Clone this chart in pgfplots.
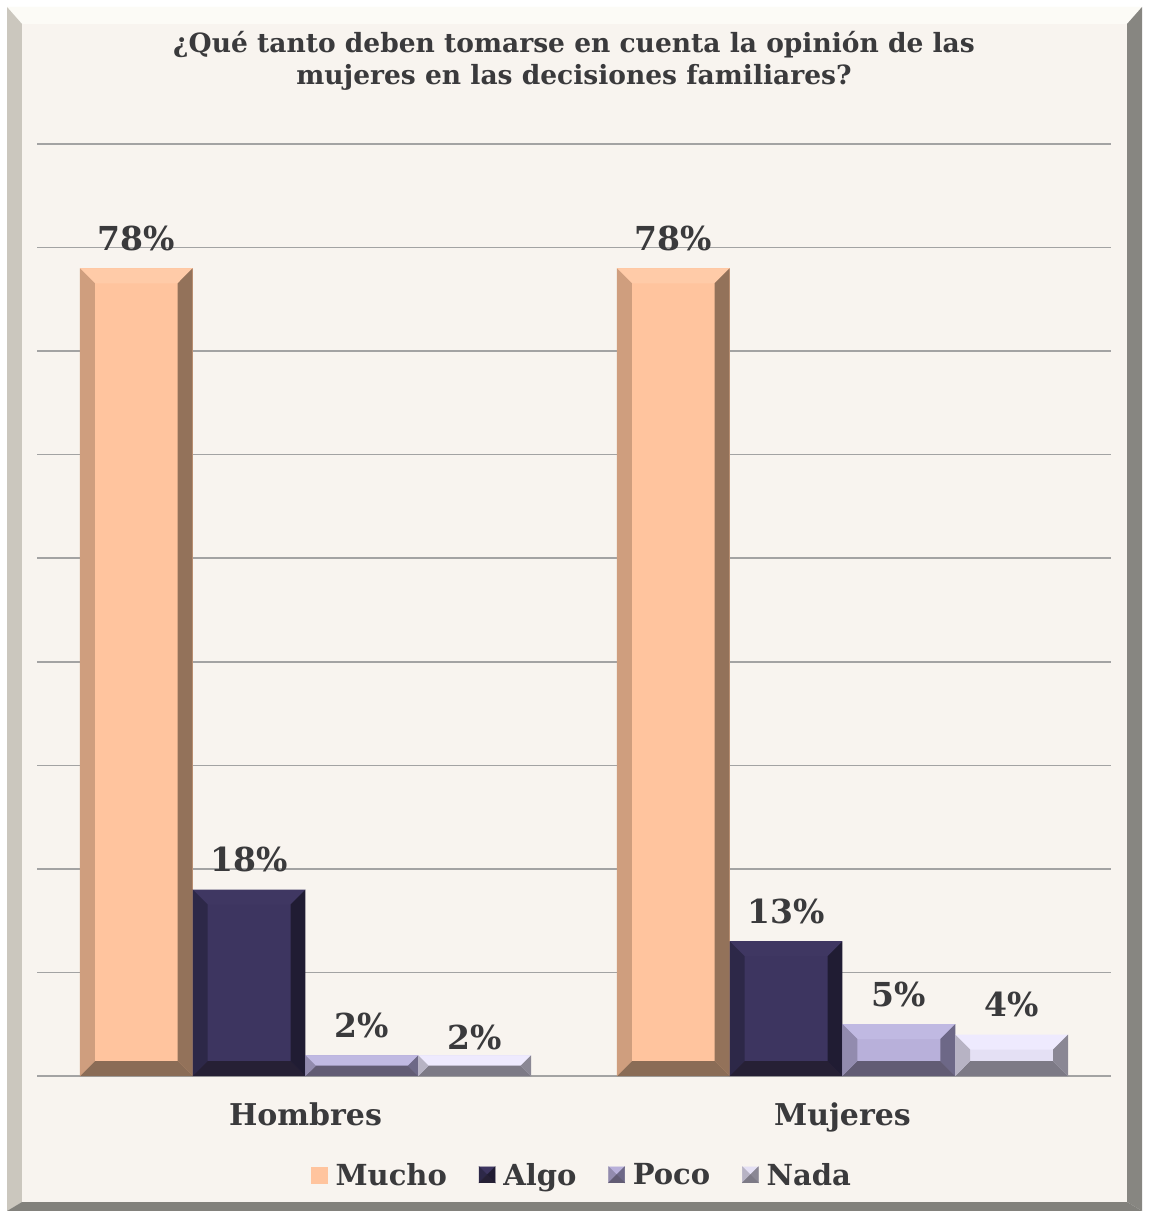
\documentclass[border=0pt]{standalone}
\usepackage{pgfplots}
\pgfplotsset{compat=1.18}
\usepackage{fontspec}
\setmainfont{DejaVu Serif}
\definecolor{txt}{HTML}{3A3A3C}
\definecolor{bg}{HTML}{F8F4EF}
\definecolor{gridc}{HTML}{A3A3A3}
\definecolor{frT}{HTML}{FCFBF6}
\definecolor{frL}{HTML}{CBC7BE}
\definecolor{frR}{HTML}{878681}
\definecolor{frB}{HTML}{82817C}
% Mucho
\definecolor{mF}{HTML}{FFC49E}\definecolor{mT}{HTML}{FFCBA8}\definecolor{mL}{HTML}{CF9E7E}\definecolor{mR}{HTML}{93725A}\definecolor{mB}{HTML}{8A6C56}
% Algo
\definecolor{aF}{HTML}{3D3560}\definecolor{aT}{HTML}{3F3762}\definecolor{aL}{HTML}{2D2848}\definecolor{aR}{HTML}{201C33}\definecolor{aB}{HTML}{262035}
% Poco
\definecolor{pF}{HTML}{B8B0DA}\definecolor{pT}{HTML}{C0B9E2}\definecolor{pL}{HTML}{928BAE}\definecolor{pR}{HTML}{6D6887}\definecolor{pB}{HTML}{625C74}
% Nada
\definecolor{nF}{HTML}{E4E0F4}\definecolor{nT}{HTML}{EEEAFE}\definecolor{nL}{HTML}{B7B3C4}\definecolor{nR}{HTML}{8A8794}\definecolor{nB}{HTML}{7D7A86}
\pgfplotsset{
  barp/.style={ybar, bar width=0.21, bar shift=0, fill=#1, draw=none, forget plot,
    nodes near coords={\pgfmathprintnumber[assume math mode=true]{\pgfplotspointmeta}\%},
    every node near coord/.append style={font=\bfseries\fontsize{33}{35}\selectfont, text=txt, yshift=14pt}},
  bev/.style={fill=#1, draw=none, forget plot},
}
\newcommand\legsq[4]{\fill[#1] (0pt,8pt)--(16pt,8pt)--(8pt,0pt)--cycle;
  \fill[#2] (0pt,-8pt)--(0pt,8pt)--(8pt,0pt)--cycle;
  \fill[#3] (16pt,-8pt)--(16pt,8pt)--(8pt,0pt)--cycle;
  \fill[#4] (0pt,-8pt)--(16pt,-8pt)--(8pt,0pt)--cycle;}
\begin{document}
\begin{tikzpicture}[x=1pt,y=1pt]
\path (0,0) rectangle (1149,1211);
\fill[white] (0,0) rectangle (1149,1211);
\fill[frT] (7,1204)--(1142,1204)--(1127,1187)--(22,1187)--cycle;
\fill[frL] (7,1204)--(22,1187)--(22,9)--(7,0)--cycle;
\fill[frR] (1142,1204)--(1142,0)--(1127,9)--(1127,1187)--cycle;
\fill[frB] (7,0)--(1142,0)--(1127,9)--(22,9)--cycle;
\fill[bg] (22,9) rectangle (1127,1187);
\node[font=\bfseries\fontsize{26.5}{32}\selectfont, text=txt, align=center] at (574,1150)
  {¿Qué tanto deben tomarse en cuenta la opinión de las\\mujeres en las decisiones familiares?};
\begin{axis}[at={(37pt,135pt)}, anchor=south west, scale only axis,
  width=1074pt, height=932pt, ymin=0, ymax=90, xmin=-0.5, xmax=1.5,
  axis line style={draw=none}, major tick length=0pt,
  ytick={0,10,...,90}, yticklabels={}, ymajorgrids,
  major grid style={color=gridc, line width=1.5pt},
  xtick={0,1}, xticklabels={Hombres,Mujeres},
  xticklabel style={font=\bfseries\fontsize{30}{32}\selectfont, text=txt, yshift=-23pt},
  legend columns=4,
  legend style={at={(0.5075,-0.106)}, anchor=center, draw=none, fill=none,
    font=\bfseries\fontsize{29}{32}\selectfont, text=txt,
    /tikz/every odd column/.append style={column sep=6pt},
    /tikz/every even column/.append style={column sep=30pt}},
  clip=false,
]
% faces
\addplot[barp=mF] coordinates {(-0.315,78)};
\addplot[barp=aF] coordinates {(-0.105,18)};
\addplot[barp=pF] coordinates {(0.105,2)};
\addplot[barp=nF, every node near coord/.append style={yshift=-12pt}] coordinates {(0.315,2)};
\addplot[barp=mF] coordinates {(0.685,78)};
\addplot[barp=aF] coordinates {(0.895,13)};
\addplot[barp=pF] coordinates {(1.105,5)};
\addplot[barp=nF] coordinates {(1.315,4)};
% bevels: Hombres Mucho [-0.42,-0.21] h=78
\addplot[bev=mT] coordinates {(-0.42,78)(-0.21,78)(-0.2379,76.552)(-0.3921,76.552)} --cycle;
\addplot[bev=mB] coordinates {(-0.42,0)(-0.21,0)(-0.2379,1.448)(-0.3921,1.448)} --cycle;
\addplot[bev=mL] coordinates {(-0.42,0)(-0.42,78)(-0.3921,76.552)(-0.3921,1.448)} --cycle;
\addplot[bev=mR] coordinates {(-0.21,0)(-0.21,78)(-0.2379,76.552)(-0.2379,1.448)} --cycle;
% Hombres Algo [-0.21,0] h=18
\addplot[bev=aT] coordinates {(-0.21,18)(0,18)(-0.0279,16.552)(-0.1821,16.552)} --cycle;
\addplot[bev=aB] coordinates {(-0.21,0)(0,0)(-0.0279,1.448)(-0.1821,1.448)} --cycle;
\addplot[bev=aL] coordinates {(-0.21,0)(-0.21,18)(-0.1821,16.552)(-0.1821,1.448)} --cycle;
\addplot[bev=aR] coordinates {(0,0)(0,18)(-0.0279,16.552)(-0.0279,1.448)} --cycle;
% Hombres Poco [0,0.21] h=2
\addplot[bev=pT] coordinates {(0,2)(0.21,2)(0.1907,1)(0.0193,1)} --cycle;
\addplot[bev=pB] coordinates {(0,0)(0.21,0)(0.1907,1)(0.0193,1)} --cycle;
\addplot[bev=pL] coordinates {(0,0)(0,2)(0.0193,1)} --cycle;
\addplot[bev=pR] coordinates {(0.21,0)(0.21,2)(0.1907,1)} --cycle;
% Hombres Nada [0.21,0.42] h=2
\addplot[bev=nT] coordinates {(0.21,2)(0.42,2)(0.4007,1)(0.2293,1)} --cycle;
\addplot[bev=nB] coordinates {(0.21,0)(0.42,0)(0.4007,1)(0.2293,1)} --cycle;
\addplot[bev=nL] coordinates {(0.21,0)(0.21,2)(0.2293,1)} --cycle;
\addplot[bev=nR] coordinates {(0.42,0)(0.42,2)(0.4007,1)} --cycle;
% Mujeres Mucho [0.58,0.79] h=78
\addplot[bev=mT] coordinates {(0.58,78)(0.79,78)(0.7621,76.552)(0.6079,76.552)} --cycle;
\addplot[bev=mB] coordinates {(0.58,0)(0.79,0)(0.7621,1.448)(0.6079,1.448)} --cycle;
\addplot[bev=mL] coordinates {(0.58,0)(0.58,78)(0.6079,76.552)(0.6079,1.448)} --cycle;
\addplot[bev=mR] coordinates {(0.79,0)(0.79,78)(0.7621,76.552)(0.7621,1.448)} --cycle;
% Mujeres Algo [0.79,1.0] h=13
\addplot[bev=aT] coordinates {(0.79,13)(1.0,13)(0.9721,11.552)(0.8179,11.552)} --cycle;
\addplot[bev=aB] coordinates {(0.79,0)(1.0,0)(0.9721,1.448)(0.8179,1.448)} --cycle;
\addplot[bev=aL] coordinates {(0.79,0)(0.79,13)(0.8179,11.552)(0.8179,1.448)} --cycle;
\addplot[bev=aR] coordinates {(1.0,0)(1.0,13)(0.9721,11.552)(0.9721,1.448)} --cycle;
% Mujeres Poco [1.0,1.21] h=5
\addplot[bev=pT] coordinates {(1.0,5)(1.21,5)(1.1821,3.552)(1.0279,3.552)} --cycle;
\addplot[bev=pB] coordinates {(1.0,0)(1.21,0)(1.1821,1.448)(1.0279,1.448)} --cycle;
\addplot[bev=pL] coordinates {(1.0,0)(1.0,5)(1.0279,3.552)(1.0279,1.448)} --cycle;
\addplot[bev=pR] coordinates {(1.21,0)(1.21,5)(1.1821,3.552)(1.1821,1.448)} --cycle;
% Mujeres Nada [1.21,1.42] h=4
\addplot[bev=nT] coordinates {(1.21,4)(1.42,4)(1.3921,2.552)(1.2379,2.552)} --cycle;
\addplot[bev=nB] coordinates {(1.21,0)(1.42,0)(1.3921,1.448)(1.2379,1.448)} --cycle;
\addplot[bev=nL] coordinates {(1.21,0)(1.21,4)(1.2379,2.552)(1.2379,1.448)} --cycle;
\addplot[bev=nR] coordinates {(1.42,0)(1.42,4)(1.3921,2.552)(1.3921,1.448)} --cycle;
% legend
\addlegendimage{legend image code/.code={\fill[mF] (0pt,-8pt) rectangle (16pt,8pt);}}
\addlegendimage{legend image code/.code={\legsq{aF}{aL}{aR}{aB}}}
\addlegendimage{legend image code/.code={\legsq{pF}{pL}{pR}{pB}}}
\addlegendimage{legend image code/.code={\legsq{nF}{nL}{nR}{nB}}}
\legend{Mucho,Algo,Poco,Nada}
\end{axis}
\end{tikzpicture}
\end{document}
